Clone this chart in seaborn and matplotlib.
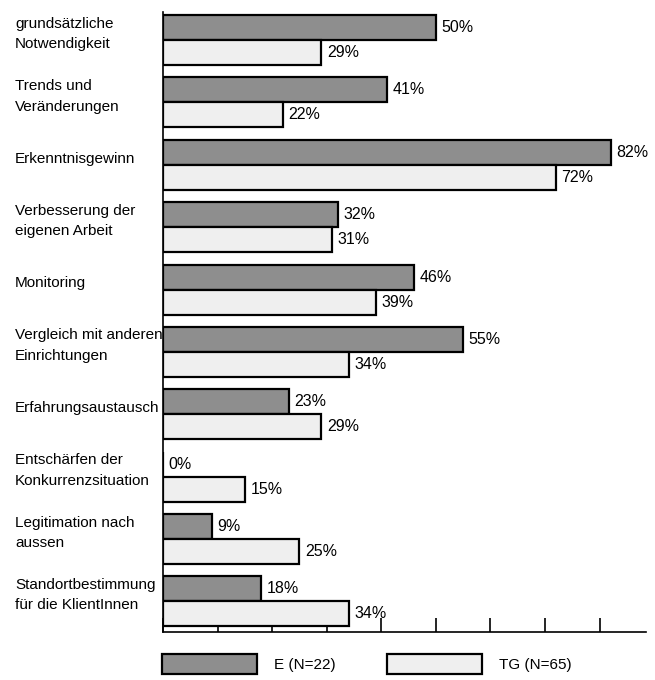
import matplotlib
matplotlib.use("Agg")
import matplotlib.pyplot as plt
import matplotlib.transforms as mtransforms
from matplotlib.patches import Patch
import seaborn as sns
import pandas as pd

categories = [
    "grundsätzliche\nNotwendigkeit",
    "Trends und\nVeränderungen",
    "Erkenntnisgewinn",
    "Verbesserung der\neigenen Arbeit",
    "Monitoring",
    "Vergleich mit anderen\nEinrichtungen",
    "Erfahrungsaustausch",
    "Entschärfen der\nKonkurrenzsituation",
    "Legitimation nach\naussen",
    "Standortbestimmung\nfür die KlientInnen",
]
e_values = [50, 41, 82, 32, 46, 55, 23, 0, 9, 18]
tg_values = [29, 22, 72, 31, 39, 34, 29, 15, 25, 34]
series = ["E (N=22)", "TG (N=65)"]
colors = ["#8e8e8e", "#efefef"]

df = pd.DataFrame({
    "cat": categories * 2,
    "val": e_values + tg_values,
    "grp": [series[0]] * len(categories) + [series[1]] * len(categories),
})

sns.set_style("white")
plt.rcParams["font.family"] = ["Liberation Sans", "DejaVu Sans"]
plt.rcParams["text.color"] = "black"

fig = plt.figure(figsize=(6.55, 6.80), dpi=100)
ax = fig.add_axes([163 / 655, 48 / 680, 483 / 655, 620 / 680])

sns.barplot(data=df, y="cat", x="val", hue="grp", order=categories,
            hue_order=series, palette=colors, orient="h", width=0.8,
            edgecolor="black", linewidth=1.6, legend=False, ax=ax)

for cont in ax.containers:
    ax.bar_label(cont, fmt="%d%%", padding=4, fontsize=11.5, color="black")

ax.set_xlim(0, 88.5)
ax.set_ylim(9.49, -0.45)
ax.set_xticks(range(0, 90, 10))
ax.set_xticklabels([])
ax.set_yticks([])
ax.tick_params(axis="x", direction="in", length=10, width=1.2, bottom=True,
               color="black")
ax.set_xlabel("")
ax.set_ylabel("")
for s in ["top", "right"]:
    ax.spines[s].set_visible(False)
for s in ["left", "bottom"]:
    ax.spines[s].set_color("black")
    ax.spines[s].set_linewidth(1.2)

trans = mtransforms.blended_transform_factory(fig.transFigure, ax.transData)
for i, c in enumerate(categories):
    ax.text(15 / 655, i - 0.1, c, transform=trans, ha="left", va="center",
            fontsize=11, linespacing=1.6, color="black")

handles = [Patch(facecolor=colors[0], edgecolor="black", linewidth=1.6),
           Patch(facecolor=colors[1], edgecolor="black", linewidth=1.6)]
fig.legend(handles, series, loc="center left",
           bbox_to_anchor=(162 / 655, 16 / 680), ncol=2, frameon=False,
           handlelength=6.2, handleheight=1.7, handletextpad=1.1,
           columnspacing=3.4, borderpad=0, borderaxespad=0, fontsize=11)

fig.savefig("out.png", dpi=100)
